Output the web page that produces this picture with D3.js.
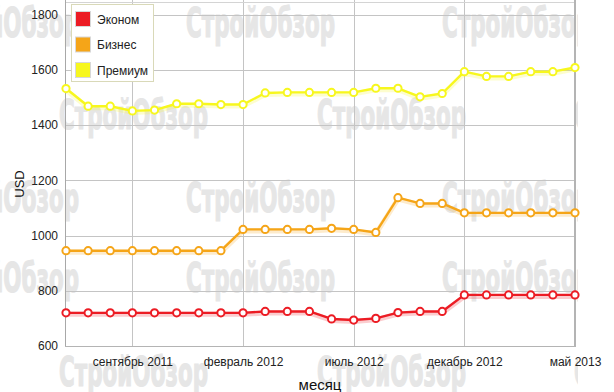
<!DOCTYPE html>
<html><head><meta charset="utf-8">
<script src="https://cdn.jsdelivr.net/npm/d3@7"></script>
<style>
html,body{margin:0;padding:0;background:#fff;}
svg{display:block;font-family:"Liberation Sans",Arial,sans-serif;}
</style></head>
<body>
<svg id="chart" width="614" height="392"></svg>
<script>
const months = ["июнь 2011","июль 2011","август 2011","сентябрь 2011","октябрь 2011","ноябрь 2011","декабрь 2011",
  "январь 2012","февраль 2012","март 2012","апрель 2012","май 2012","июнь 2012","июль 2012","август 2012",
  "сентябрь 2012","октябрь 2012","ноябрь 2012","декабрь 2012","январь 2013","февраль 2013","март 2013","апрель 2013","май 2013"];
const econom   = [720,720,720,720,720,720,720,720,720,725,725,725,698,694,700,721,725,725,785,785,785,785,785,785];
const business = [945,945,945,945,945,945,945,945,1022,1022,1022,1022,1026,1022,1011,1137,1116,1116,1082,1082,1082,1082,1082,1082];
const premium  = [1532,1468,1468,1451,1454,1477,1477,1474,1474,1516,1518,1518,1518,1518,1533,1533,1502,1514,1593,1576,1576,1593,1593,1608];
const seriesNames = ["Эконом","Бизнес","Премиум"];
const seriesColors = ["#ec1c24","#f5a518","#f7f71e"];
const yTicks = [600,800,1000,1200,1400,1600,1800];
const xTickLabels = ["сентябрь 2011","февраль 2012","июль 2012","декабрь 2012","май 2013"];
const watermarkText = "СтройОбзор";

(function(){
const svg = d3.select("#chart");
const pLeft = 65, pRight = 575, pBottom = 346;
const x = d3.scaleLinear().domain([0, months.length - 1]).range([66, 575]);
const y = d3.scaleLinear().domain([600, 1800]).range([346, 14.5]);

// watermark
const defs = svg.append("defs");
defs.append("clipPath").attr("id","wmclip").append("rect").attr("x",0).attr("y",0).attr("width",578).attr("height",392);
const wmRows = [{t:8,xs:[-70,186,442]},{t:100,xs:[59,317,574]},{t:183,xs:[-70,186,442]},{t:263,xs:[-70,186,442]},{t:357,xs:[59,317,574]}];
const wm = svg.append("g").attr("clip-path","url(#wmclip)");
wmRows.forEach(r => r.xs.forEach(xx => {
  wm.append("text").attr("x", xx).attr("y", r.t + 29)
    .attr("font-family","'Liberation Sans Narrow','DejaVu Sans Condensed',sans-serif")
    .attr("font-weight","bold").attr("font-size",40)
    .attr("textLength",149).attr("lengthAdjust","spacingAndGlyphs")
    .attr("fill","#e6e6e6").attr("stroke","#e6e6e6").attr("stroke-width",1.2).text(watermarkText);
}));

// grid
const grid = svg.append("g");
grid.selectAll("line.h").data(yTicks).join("line")
  .attr("x1", pLeft).attr("x2", pRight).attr("y1", d => Math.round(y(d)) + 0.5).attr("y2", d => Math.round(y(d)) + 0.5)
  .attr("stroke","#c4c4c4").attr("stroke-width",1);
const xTickIdx = xTickLabels.map(l => months.indexOf(l));
grid.selectAll("line.v").data(xTickIdx).join("line")
  .attr("x1", d => Math.round(x(d)) + 0.5).attr("x2", d => Math.round(x(d)) + 0.5).attr("y1", 0).attr("y2", pBottom)
  .attr("stroke","#c4c4c4").attr("stroke-width",1);
grid.append("line").attr("x1",pLeft).attr("x2",pRight).attr("y1",2.5).attr("y2",2.5).attr("stroke","#d4d4d4");
// borders
svg.append("line").attr("x1",pLeft+0.5).attr("x2",pLeft+0.5).attr("y1",0).attr("y2",pBottom).attr("stroke","#a8a8a8");
svg.append("line").attr("x1",575).attr("x2",575).attr("y1",0).attr("y2",pBottom+1).attr("stroke","#b4b4b4").attr("stroke-width",2);
svg.append("line").attr("x1",pLeft).attr("x2",576).attr("y1",pBottom+0.5).attr("y2",pBottom+0.5).attr("stroke","#b4b4b4");

// y axis labels
const yAxis = d3.axisLeft(y).tickValues(yTicks).tickFormat(d3.format("d")).tickSize(0).tickPadding(7);
const yg = svg.append("g").attr("transform",`translate(${pLeft},0)`).call(yAxis);
yg.select(".domain").remove();
yg.selectAll("text").attr("font-size",12).attr("fill","#222").attr("font-family","'Liberation Sans',Arial,sans-serif");

// x axis labels
const xAxis = d3.axisBottom(x).tickValues(xTickIdx).tickFormat(i => months[i]).tickSize(0).tickPadding(11);
const xg = svg.append("g").attr("transform",`translate(0,${pBottom})`).call(xAxis);
xg.select(".domain").remove();
xg.selectAll("text").attr("font-size",12).attr("fill","#222").attr("font-family","'Liberation Sans',Arial,sans-serif");

// axis titles
svg.append("text").attr("transform","translate(24,184) rotate(-90)").attr("text-anchor","middle")
  .attr("font-size",13).attr("fill","#111").text("USD");
svg.append("text").attr("x",320).attr("y",390).attr("text-anchor","middle")
  .attr("font-size",15).attr("fill","#111").text("месяц");

// series
const allSeries = [econom, business, premium];
const line = d3.line().x((d,i) => x(i)).y(d => y(d));
allSeries.forEach((vals, si) => {
  const g = svg.append("g");
  g.append("path").attr("d", line(vals)).attr("fill","none")
    .attr("stroke", seriesColors[si]).attr("stroke-width",5).attr("stroke-opacity",0.22)
    .attr("transform","translate(0,1.5)").attr("stroke-linejoin","round");
  g.append("path").attr("d", line(vals)).attr("fill","none")
    .attr("stroke", seriesColors[si]).attr("stroke-width",2.4).attr("stroke-linejoin","round");
  g.selectAll("circle").data(vals).join("circle")
    .attr("cx",(d,i) => x(i)).attr("cy", d => y(d)).attr("r",3.6)
    .attr("fill","#fff").attr("stroke", seriesColors[si]).attr("stroke-width",2);
});

// legend
const lg = svg.append("g");
lg.append("rect").attr("x",71.5).attr("y",4.5).attr("width",82).attr("height",77)
  .attr("fill","#fff").attr("stroke","#d9d9b8");
seriesNames.forEach((n,i) => {
  const cy = 19 + i*25.5;
  lg.append("rect").attr("x",75.5).attr("y",cy-7.5).attr("width",15).attr("height",15)
    .attr("fill",seriesColors[i]).attr("stroke","#d8d8d8");
  lg.append("text").attr("x",97).attr("y",cy+4.5).attr("font-size",12).attr("fill","#222").text(n);
});
})();
</script>
</body></html>
